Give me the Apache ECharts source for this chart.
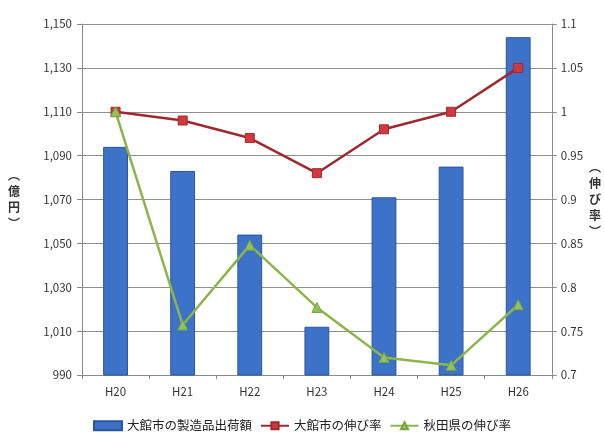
<!DOCTYPE html>
<html><head><meta charset="utf-8">
<script src="https://cdn.jsdelivr.net/npm/echarts@6/dist/echarts.min.js"></script>
<style>html,body{margin:0;padding:0;background:#fff}#c{width:604px;height:442px}</style>
</head><body><div id="c"></div>
<script>
const categories = ['H20','H21','H22','H23','H24','H25','H26'];
const shipments = [1094, 1083, 1054, 1012, 1071, 1085, 1144];
const odateRate = [1.00, 0.99, 0.97, 0.93, 0.98, 1.00, 1.05];
const akitaRate = [1.00, 0.757, 0.848, 0.777, 0.72, 0.711, 0.78];
const seriesNames = ['大館市の製造品出荷額','大館市の伸び率','秋田県の伸び率'];

const font = '"Noto Sans CJK JP", "Noto Sans", sans-serif';
const chart = echarts.init(document.getElementById('c'));
chart.setOption({
  animation: false,
  textStyle: {fontFamily: font},
  grid: {left: 82, right: 52, top: 24, bottom: 67},
  legend: {
    bottom: 5, left: 'center', itemGap: 8, itemWidth: 28, itemHeight: 9,
    textStyle: {fontSize: 12.5, color: '#222', fontFamily: font},
    data: [{name: seriesNames[0], icon: 'rect'}, seriesNames[1], seriesNames[2]]
  },
  xAxis: {
    type: 'category', data: categories,
    axisLine: {lineStyle: {color: '#8a8a8a'}},
    axisTick: {show: true, length: 4, lineStyle: {color: '#8a8a8a'}},
    axisLabel: {color: '#333', fontSize: 11.5, margin: 11}
  },
  yAxis: [{
    type: 'value', min: 990, max: 1150, interval: 20,
    name: '︵\n億\n円\n︶', nameLocation: 'middle', nameGap: 62, nameRotate: 0,
    nameTextStyle: {fontSize: 12, fontWeight: 'bold', color: '#333', lineHeight: 16},
    axisLine: {show: true, lineStyle: {color: '#8a8a8a'}},
    axisTick: {show: true, length: 5, lineStyle: {color: '#8a8a8a'}},
    axisLabel: {color: '#333', fontSize: 11.5, margin: 10,
      formatter: v => v.toLocaleString('en-US')},
    splitLine: {lineStyle: {color: '#8f8f8f', width: 1}}
  }, {
    type: 'value', min: 0.7, max: 1.1, interval: 0.05,
    name: '︵\n伸\nび\n率\n︶', nameLocation: 'middle', nameGap: 36, nameRotate: 0,
    nameTextStyle: {fontSize: 12, fontWeight: 'bold', color: '#333', lineHeight: 16},
    axisLine: {show: true, lineStyle: {color: '#8a8a8a'}},
    axisTick: {show: true, length: 5, lineStyle: {color: '#8a8a8a'}},
    axisLabel: {color: '#333', fontSize: 11.5, margin: 9,
      formatter: v => String(+v.toFixed(2))},
    splitLine: {show: false}
  }],
  series: [{
    name: seriesNames[0], type: 'bar', data: shipments, barWidth: '37%',
    itemStyle: {color: '#3d72c9', borderColor: '#2a559e', borderWidth: 1}
  }, {
    name: seriesNames[1], type: 'line', yAxisIndex: 1, data: odateRate,
    symbol: 'rect', symbolSize: 9,
    lineStyle: {color: '#9e2a30', width: 2.5},
    itemStyle: {color: '#d0393f', borderColor: '#9e2a30', borderWidth: 1}
  }, {
    name: seriesNames[2], type: 'line', yAxisIndex: 1, data: akitaRate,
    symbol: 'triangle', symbolSize: 10,
    lineStyle: {color: '#8db54a', width: 2.5},
    itemStyle: {color: '#93c25a', borderColor: '#7aa23e', borderWidth: 1}
  }]
});
</script></body></html>
